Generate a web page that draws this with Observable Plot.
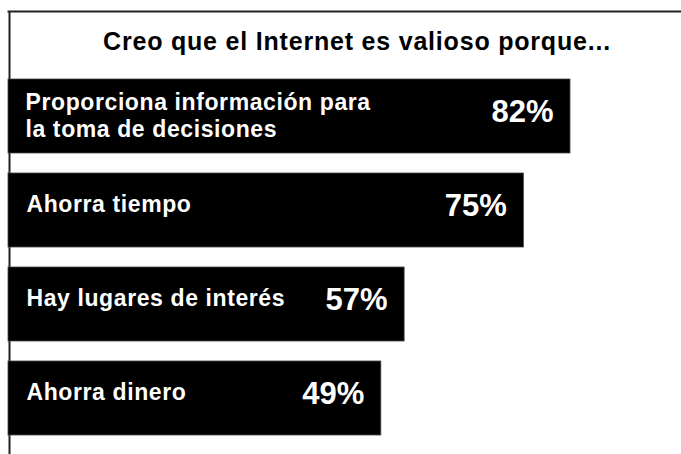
<!DOCTYPE html>
<html>
<head>
<meta charset="utf-8">
<script src="https://cdn.jsdelivr.net/npm/d3@7"></script>
<script src="https://cdn.jsdelivr.net/npm/@observablehq/plot@0.6"></script>
<style>
  html, body { margin: 0; padding: 0; background: #fff; }
  g[aria-description="titulo"] text { letter-spacing: 0.8px; }
  g[aria-description="etiqueta"] text { letter-spacing: 0.6px; }
</style>
</head>
<body>
<div id="chart"></div>
<script>
const titulo = "Creo que el Internet es valioso porque...";
const categorias = [
  "Proporciona información para\nla toma de decisiones",
  "Ahorra tiempo",
  "Hay lugares de interés",
  "Ahorra dinero"
];
const porcentajes = [82, 75, 57, 49];
// bar lengths as drawn in the picture (same % units; the last bar is drawn longer than its label)
const longitudBarra = [82, 75.2, 57.8, 54.4];

const data = categorias.map((c, i) => ({cat: c, pct: porcentajes[i], largo: longitudBarra[i]}));

const chart = Plot.plot({
  width: 681,
  height: 454,
  marginTop: 11,
  marginLeft: 8,
  marginRight: 0,
  marginBottom: 0,
  x: {domain: [0, 98.2], axis: null},
  y: {domain: categorias, range: [68.2, 446.9], paddingInner: 0.208, paddingOuter: 0.104, axis: null},
  style: {fontFamily: "'Liberation Sans', Arial, sans-serif", background: "#fff", color: "#000"},
  marks: [
    Plot.ruleX([0], {stroke: "#222", strokeWidth: 2, dx: 1}),
    Plot.frame({anchor: "top", stroke: "#222", strokeWidth: 2}),
    Plot.barX(data, {x: "largo", y: "cat", fill: "#000", stroke: "#444", strokeWidth: 0.8}),
    Plot.text([titulo], {text: d => d, frameAnchor: "top", lineAnchor: "middle", dx: 12, dy: 30, fontSize: 25, fontWeight: "bold", fill: "#000", ariaDescription: "titulo"}),
    Plot.text(data.filter(d => d.cat.includes("\n")), {x: 0, y: "cat", text: "cat", textAnchor: "start", dx: 17, dy: -1.5, lineHeight: 1.15, fontSize: 23, fontWeight: "bold", fill: "#fff", ariaDescription: "etiqueta"}),
    Plot.text(data.filter(d => !d.cat.includes("\n")), {x: 0, y: "cat", text: "cat", textAnchor: "start", dx: 18, dy: -5.5, fontSize: 23, fontWeight: "bold", fill: "#fff", ariaDescription: "etiqueta"}),
    Plot.text(data, {x: "largo", y: "cat", text: d => d.pct + "%", textAnchor: "end", dx: -17, dy: -4, fontSize: 31, fontWeight: "bold", fill: "#fff", ariaDescription: "valor"})
  ]
});
document.getElementById("chart").appendChild(chart);
</script>
</body>
</html>
